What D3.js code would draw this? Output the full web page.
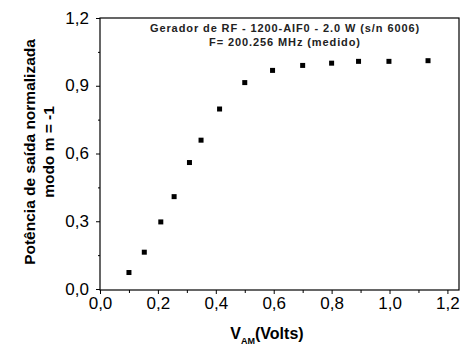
<!DOCTYPE html>
<html><head><meta charset="utf-8">
<script src="https://cdn.jsdelivr.net/npm/d3@7"></script>
<style>
body{margin:0;background:#fff;}
svg{display:block;}
</style></head>
<body>
<svg id="c" width="461" height="353"></svg>
<script>
const vam = [0.10,0.153,0.21,0.256,0.309,0.349,0.413,0.50,0.596,0.70,0.80,0.893,0.998,1.133];
const potencia = [0.073,0.163,0.297,0.409,0.560,0.659,0.797,0.914,0.968,0.990,1.000,1.008,1.008,1.011];
const xTicks = [0,0.2,0.4,0.6,0.8,1.0,1.2];
const yTicks = [0,0.3,0.6,0.9,1.2];
const xMinor = [0.1,0.3,0.5,0.7,0.9,1.1];
const yMinor = [0.15,0.45,0.75,1.05];
const titleLines = ["Gerador de  RF - 1200-AIF0 - 2.0 W  (s/n 6006)","F= 200.256 MHz (medido)"];
const yLabelLines = ["Potência de saída normalizada","modo m = -1"];

const svg = d3.select("#c");
const L=100, R=459, T=18, B=289;
const x = d3.scaleLinear().domain([0,1.24]).range([L,R]);
const y = d3.scaleLinear().domain([0,1.2]).range([B,T]);
const fmt = d => d3.format(".1f")(d).replace(".",",");
const tickFont = "'Liberation Sans',Arial,sans-serif";

// frame
svg.append("rect").attr("x",L).attr("y",T).attr("width",R-L).attr("height",B-T+1)
  .attr("fill","none").attr("stroke","#000").attr("stroke-width",1.2);

// x axis
const gx = svg.append("g").attr("transform",`translate(0,${B+1})`)
  .call(d3.axisBottom(x).tickValues(xTicks).tickFormat(fmt).tickSize(4).tickPadding(3));
const gxm = svg.append("g").attr("transform",`translate(0,${B+1})`)
  .call(d3.axisBottom(x).tickValues(xMinor).tickFormat("").tickSize(3));
// y axis
const gy = svg.append("g").attr("transform",`translate(${L},0)`)
  .call(d3.axisLeft(y).tickValues(yTicks).tickFormat(fmt).tickSize(4).tickPadding(7));
const gym = svg.append("g").attr("transform",`translate(${L},0)`)
  .call(d3.axisLeft(y).tickValues(yMinor).tickFormat("").tickSize(2));
[gx,gxm,gy,gym].forEach(g=>{
  g.select(".domain").remove();
  g.selectAll("line").attr("stroke","#000").attr("stroke-width",1);
  g.selectAll("text").attr("fill","#000").style("font-family",tickFont).style("font-size","17px");
});
gy.selectAll("text").attr("dy","0.3em");

// points
svg.append("g").selectAll("rect").data(vam).join("rect")
  .attr("x",(d)=>x(d)-2.5).attr("y",(d,i)=>y(potencia[i])-2.5)
  .attr("width",5).attr("height",5).attr("fill","#000");

// title inside
svg.append("g").selectAll("text").data(titleLines).join("text")
  .attr("x",285).attr("y",(d,i)=>32+i*14).attr("text-anchor","middle")
  .style("font-family","'Liberation Sans',Arial,sans-serif").style("font-size","11px")
  .style("font-weight","bold").style("letter-spacing","0.9px")
  .attr("fill","#222").text(d=>d);

// y label
svg.append("g").selectAll("text").data(yLabelLines).join("text")
  .attr("transform",(d,i)=>`translate(${35+i*19},152) rotate(-90)`)
  .attr("text-anchor","middle")
  .style("font-family","'Liberation Sans',Arial,sans-serif")
  .style("font-size","15.5px").style("font-weight","bold").attr("fill","#000").text(d=>d);

// x label
const xl = svg.append("text").attr("x",267).attr("y",339).attr("text-anchor","middle")
  .style("font-family","'Liberation Sans',Arial,sans-serif").style("font-size","16px")
  .style("font-weight","bold").attr("fill","#000");
xl.append("tspan").text("V");
xl.append("tspan").attr("dy",5).style("font-size","9px").text("AM");
xl.append("tspan").attr("dy",-5).text("(Volts)");
</script>
</body></html>
